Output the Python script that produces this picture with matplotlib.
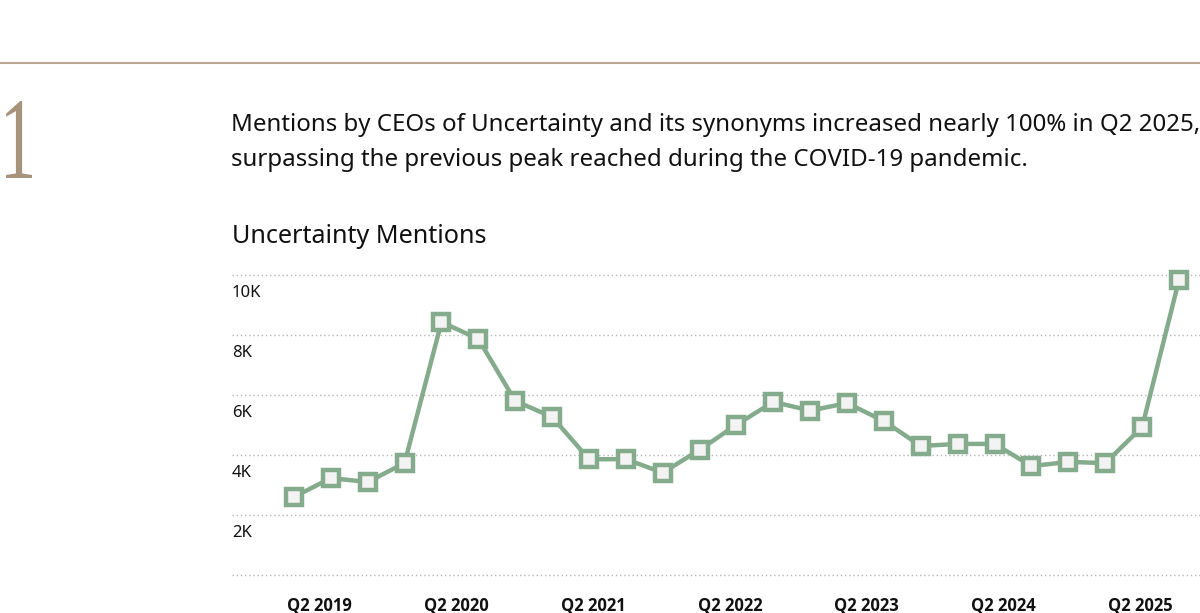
import matplotlib
matplotlib.use("Agg")
from matplotlib import pyplot as plt
import matplotlib.transforms as mtransforms
from matplotlib.textpath import TextPath
from matplotlib.patches import PathPatch
from matplotlib.font_manager import FontProperties
import numpy as np

# quarterly mentions, Q2 2019 .. Q2 2025 (thousands)
quarters = ["Q2 2019", "Q3 2019", "Q4 2019", "Q1 2020", "Q2 2020", "Q3 2020", "Q4 2020",
            "Q1 2021", "Q2 2021", "Q3 2021", "Q4 2021", "Q1 2022", "Q2 2022", "Q3 2022",
            "Q4 2022", "Q1 2023", "Q2 2023", "Q3 2023", "Q4 2023", "Q1 2024", "Q2 2024",
            "Q3 2024", "Q4 2024", "Q1 2025", "Q2 2025"]
mentions_k = [2.60, 3.23, 3.10, 3.73, 8.43, 7.87, 5.80, 5.27, 3.86, 3.86, 3.41, 4.17,
              5.01, 5.77, 5.48, 5.73, 5.13, 4.30, 4.37, 4.37, 3.63, 3.77, 3.73, 4.93, 9.83]
xtick_labels = ["Q2 2019", "Q2 2020", "Q2 2021", "Q2 2022", "Q2 2023", "Q2 2024", "Q2 2025"]
ytick_vals = [0, 2000, 4000, 6000, 8000, 10000]
ytick_labels = ["", "2K", "4K", "6K", "8K", "10K"]

green = "#84ab8c"
tan = "#a8937c"
plt.rcParams["font.family"] = ["Noto Sans", "DejaVu Sans"]

W, H = 1200, 613
fig = plt.figure(figsize=(W / 100, H / 100), dpi=100)

# rule across the top
fig.add_artist(plt.Line2D([0, 1], [1 - 63 / H, 1 - 63 / H], color="#bba793", lw=1.5))

# big thin serif "1", squeezed into its box (pixel coords)
tp = TextPath((0, 0), "1", size=1, prop=FontProperties(family="Liberation Serif"))
ext = tp.get_extents()
bx0, bx1, by0, by1 = 6, 32, H - 178, H - 101
tr = (mtransforms.Affine2D().translate(-ext.x0, -ext.y0)
      .scale((bx1 - bx0) / ext.width, (by1 - by0) / ext.height)
      .translate(bx0, by0))
fig.add_artist(PathPatch(tr.transform_path(tp), transform=mtransforms.IdentityTransform(),
                         facecolor=tan, edgecolor="none"))

fig.text(231 / W, 1 - 125 / H,
         "Mentions by CEOs of Uncertainty and its synonyms increased nearly 100% in Q2 2025,",
         fontsize=17.3, color="#111111", va="center", ha="left")
fig.text(231 / W, 1 - 160 / H,
         "surpassing the previous peak reached during the COVID-19 pandemic.",
         fontsize=17.3, color="#111111", va="center", ha="left")
fig.text(232 / W, 1 - 236 / H, "Uncertainty Mentions", fontsize=18.1,
         color="#111111", va="center", ha="left")

ax = fig.add_axes([232 / W, 1 - 575 / H, 1 - 232 / W, 300 / H])
x = np.arange(len(quarters))
y = np.array(mentions_k) * 1000
ax.plot(x, y, color=green, lw=3.2, marker="s", markersize=11.3,
        markerfacecolor="#f3f3f3", markeredgecolor=green, markeredgewidth=3.2,
        clip_on=False, zorder=3)

ax.set_ylim(0, 10000)
ax.set_xlim(-1.68, 24.57)
ax.set_yticks(ytick_vals)
ax.set_yticklabels([])
ax.grid(axis="y", linestyle=(0, (1, 2)), color="#b5b5b5", lw=1)
for gl in ax.get_ygridlines():
    gl.set_clip_on(False)
ax.set_axisbelow(True)
for s in ax.spines.values():
    s.set_visible(False)
ax.tick_params(length=0)

# y labels sit just under each gridline
trans = mtransforms.offset_copy(ax.get_yaxis_transform(), fig=fig, y=-18, units="dots")
for v, lab in zip(ytick_vals, ytick_labels):
    ax.text(0, v, lab, transform=trans, fontsize=12, color="#111111",
            ha="left", va="center")

ax.set_xticks(np.linspace(0.7, 22.95, len(xtick_labels)))
ax.set_xticklabels(xtick_labels, fontsize=12, fontweight="bold", color="#111111",
                   family=["Open Sans", "DejaVu Sans"])
ax.tick_params(axis="x", pad=16)

fig.savefig("out.png", dpi=100, facecolor="white")
